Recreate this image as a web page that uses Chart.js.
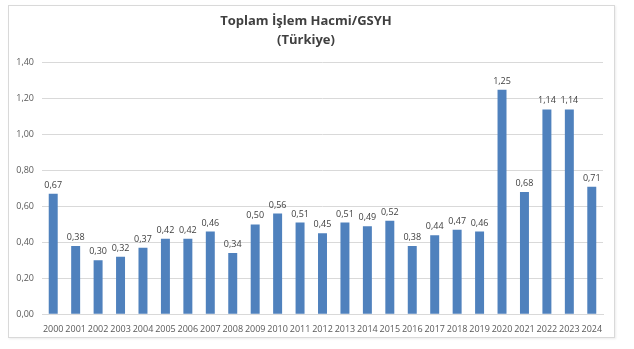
<!DOCTYPE html>
<html>
<head>
<meta charset="utf-8">
<script src="https://cdn.jsdelivr.net/npm/chart.js@4"></script>
<style>
  html, body { margin: 0; padding: 0; background: #fff; }
  #frame {
    position: absolute; left: 8px; top: 5px;
    width: 605px; height: 331px;
    border: 1px solid #d9d9d9;
    box-shadow: 1px 1px 2px rgba(0,0,0,0.08);
  }
  canvas { display: block; }
</style>
</head>
<body>
<div id="frame"><canvas id="chart" width="605" height="331"></canvas></div>
<script>
// Data
const years = ['2000','2001','2002','2003','2004','2005','2006','2007','2008','2009','2010','2011','2012',
  '2013','2014','2015','2016','2017','2018','2019','2020','2021','2022','2023','2024'];
const ratios = [0.67, 0.38, 0.30, 0.32, 0.37, 0.42, 0.42, 0.46, 0.34, 0.50, 0.56, 0.51, 0.45,
  0.51, 0.49, 0.52, 0.38, 0.44, 0.47, 0.46, 1.25, 0.68, 1.14, 1.14, 0.71];
const titleLines = ['Toplam İşlem Hacmi/GSYH', '(Türkiye)'];

const FONT = "'Open Sans', 'Liberation Sans', sans-serif";
const fmt = v => v.toFixed(2).replace('.', ',');

// draw value labels above each bar
const valueLabels = {
  id: 'valueLabels',
  afterDatasetsDraw(chart) {
    const ctx = chart.ctx;
    const meta = chart.getDatasetMeta(0);
    ctx.save();
    ctx.font = '9px ' + FONT;
    ctx.fillStyle = '#404040';
    ctx.textAlign = 'center';
    ctx.textBaseline = 'bottom';
    meta.data.forEach((bar, i) => {
      ctx.fillText(fmt(ratios[i]), bar.x, bar.y - 4);
    });
    ctx.restore();
  }
};

new Chart(document.getElementById('chart'), {
  type: 'bar',
  data: {
    labels: years,
    datasets: [{
      data: ratios,
      backgroundColor: '#4f81bd',
      borderWidth: 0,
      barPercentage: 0.4,
      categoryPercentage: 1.0
    }]
  },
  options: {
    responsive: false,
    animation: false,
    layout: { padding: { left: 0, right: 11, top: 0, bottom: 0 } },
    plugins: {
      legend: { display: false },
      tooltip: { enabled: false },
      title: {
        display: true,
        text: titleLines,
        color: '#404040',
        font: { family: FONT, size: 13, weight: 'bold', lineHeight: 1.45 },
        padding: { top: 6, bottom: 13 }
      }
    },
    scales: {
      x: {
        grid: { display: false },
        border: { color: '#d9d9d9' },
        ticks: {
          color: '#595959',
          font: { family: FONT, size: 9 },
          maxRotation: 0,
          autoSkip: false,
          padding: 2
        }
      },
      y: {
        min: 0,
        max: 1.4,
        grid: { color: '#d9d9d9', drawTicks: false },
        border: { display: false },
        afterFit(scale) { scale.width = 33; },
        ticks: {
          stepSize: 0.2,
          color: '#595959',
          font: { family: FONT, size: 9 },
          padding: 8,
          callback: v => fmt(v)
        }
      }
    }
  },
  plugins: [valueLabels]
});
</script>
</body>
</html>
